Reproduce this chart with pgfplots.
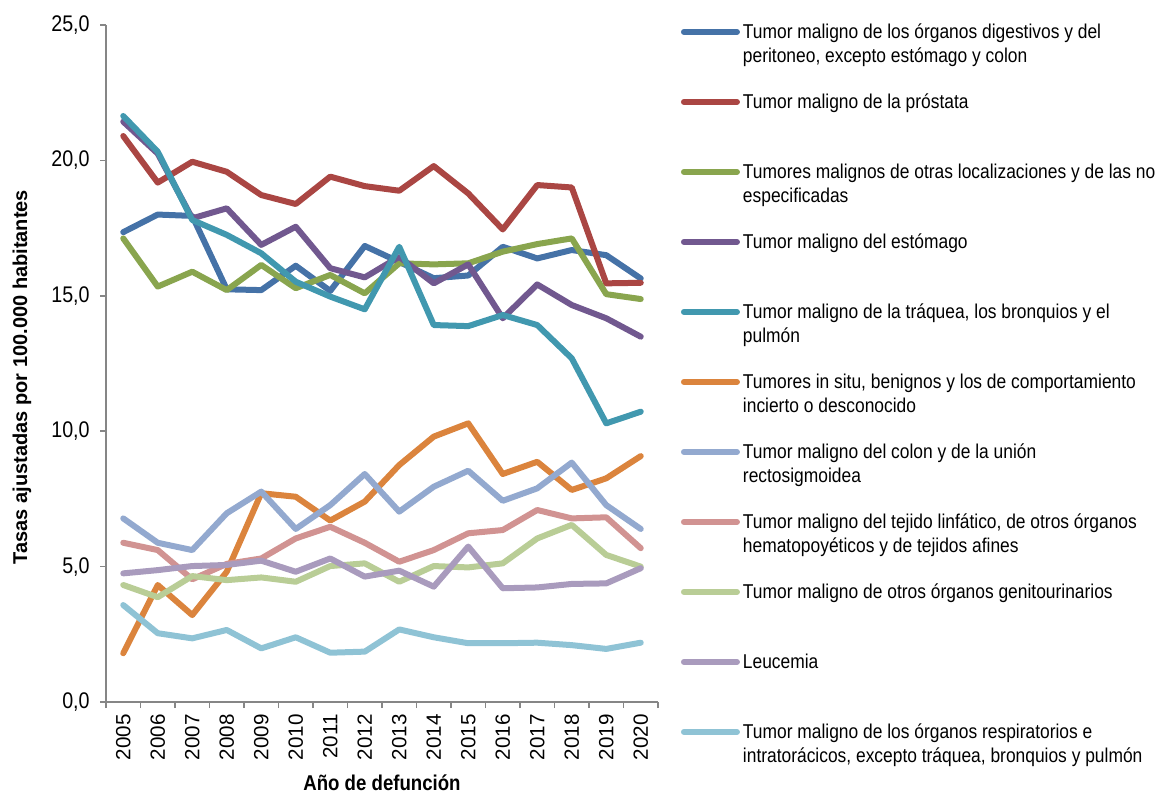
\documentclass[border=0pt]{standalone}
\usepackage{pgfplots}
\pgfplotsset{compat=1.18}
\usepackage{fontspec}
\setmainfont{Liberation Sans}[FakeStretch=0.87]
\newfontfamily\rotfont{Liberation Sans}
\definecolor{axgray}{HTML}{868686}
\definecolor{c1}{HTML}{4572A7}
\definecolor{c2}{HTML}{AA4643}
\definecolor{c3}{HTML}{89A54E}
\definecolor{c4}{HTML}{71588F}
\definecolor{c5}{HTML}{4198AF}
\definecolor{c6}{HTML}{DB843D}
\definecolor{c7}{HTML}{93A9CF}
\definecolor{c8}{HTML}{D19392}
\definecolor{c9}{HTML}{B9CD96}
\definecolor{c10}{HTML}{A99BBD}
\definecolor{c11}{HTML}{8FC3D5}
\newcommand{\LE}[1]{\begin{tabular}[t]{@{}l@{}}#1\end{tabular}}
\begin{document}
\begin{tikzpicture}
\useasboundingbox (-53pt,-45pt) rectangle (527pt,351pt);
\begin{axis}[
  at={(0pt,0pt)}, anchor=south west,
  scale only axis, width=276pt, height=338.5pt,
  xmin=2004.5, xmax=2020.5, ymin=0, ymax=25,
  axis x line*=bottom, axis y line*=left,
  axis line style={draw=axgray, line width=0.8pt},
  tick align=outside, tick style={draw=axgray, line width=0.8pt},
  major tick length=3pt, minor tick length=3pt,
  xtick={2005,2006,...,2020},
  xticklabels={2005,2006,2007,2008,2009,2010,2011,2012,2013,2014,2015,2016,2017,2018,2019,2020},
  every major x tick/.append style={draw=none},
  minor xtick={2004.5,2005.5,...,2020.5},
  xticklabel style={rotate=90, anchor=east, inner sep=0pt, font=\rotfont\fontsize{10.3}{12}\selectfont},
  xticklabel shift=3pt,
  ytick={0,5,10,15,20,25},
  yticklabel style={inner sep=0pt, font=\fontsize{11.3}{13}\selectfont,
    /pgf/number format/.cd, fixed, fixed zerofill, precision=1, use comma, assume math mode=true},
  yticklabel shift=5pt,
  xlabel={Año de defunción},
  xlabel style={at={(axis description cs:0.5,0)}, anchor=base, yshift=-44pt, font=\bfseries\fontsize{10.7}{12}\selectfont},
  ylabel={Tasas ajustadas por 100.000 habitantes},
  ylabel style={at={(axis description cs:-0.1522,0.48)}, anchor=center, font=\rotfont\bfseries\fontsize{10}{12}\selectfont},
  every axis plot/.append style={line width=3pt, line join=round, line cap=round, no markers},
  legend cell align=left,
  legend style={at={(axis description cs:1.0416,1.003)}, anchor=north west, draw=none, fill=none,
    inner sep=0pt, outer sep=0pt, column sep=1.5pt, row sep=0pt,
    font=\fontsize{10}{12}\selectfont,
    nodes={inner sep=0pt, text height=8pt, text depth=27pt},
    cells={anchor=base west}},
  legend image code/.code={\draw[#1] (1.5pt,3.5pt) -- (28pt,3.5pt);},
]
\addplot[c1] coordinates {(2005,17.35) (2006,18.0) (2007,17.95) (2008,15.24) (2009,15.21) (2010,16.11) (2011,15.18) (2012,16.84) (2013,16.25) (2014,15.65) (2015,15.75) (2016,16.81) (2017,16.38) (2018,16.69) (2019,16.5) (2020,15.64)};
\addlegendentry{\LE{Tumor maligno de los órganos digestivos y del\\peritoneo, excepto estómago y colon}}
\addplot[c2] coordinates {(2005,20.9) (2006,19.18) (2007,19.95) (2008,19.58) (2009,18.72) (2010,18.39) (2011,19.4) (2012,19.05) (2013,18.88) (2014,19.79) (2015,18.78) (2016,17.45) (2017,19.09) (2018,19.0) (2019,15.46) (2020,15.48)};
\addlegendentry{\LE{Tumor maligno de la próstata}}
\addplot[c3] coordinates {(2005,17.12) (2006,15.34) (2007,15.89) (2008,15.21) (2009,16.14) (2010,15.28) (2011,15.77) (2012,15.09) (2013,16.2) (2014,16.16) (2015,16.2) (2016,16.63) (2017,16.91) (2018,17.12) (2019,15.06) (2020,14.88)};
\addlegendentry{\LE{Tumores malignos de otras localizaciones y de las no\\especificadas}}
\addplot[c4] coordinates {(2005,21.43) (2006,20.25) (2007,17.86) (2008,18.23) (2009,16.88) (2010,17.55) (2011,16.02) (2012,15.68) (2013,16.44) (2014,15.46) (2015,16.16) (2016,14.17) (2017,15.42) (2018,14.66) (2019,14.17) (2020,13.49)};
\addlegendentry{\LE{Tumor maligno del estómago}}
\addplot[c5] coordinates {(2005,21.64) (2006,20.32) (2007,17.8) (2008,17.25) (2009,16.57) (2010,15.52) (2011,14.97) (2012,14.5) (2013,16.81) (2014,13.92) (2015,13.88) (2016,14.29) (2017,13.92) (2018,12.69) (2019,10.29) (2020,10.72)};
\addlegendentry{\LE{Tumor maligno de la tráquea, los bronquios y el\\pulmón}}
\addplot[c6] coordinates {(2005,1.8) (2006,4.32) (2007,3.21) (2008,4.81) (2009,7.71) (2010,7.58) (2011,6.7) (2012,7.4) (2013,8.75) (2014,9.8) (2015,10.29) (2016,8.42) (2017,8.87) (2018,7.83) (2019,8.26) (2020,9.08)};
\addlegendentry{\LE{Tumores in situ, benignos y los de comportamiento\\incierto o desconocido}}
\addplot[c7] coordinates {(2005,6.78) (2006,5.88) (2007,5.61) (2008,6.97) (2009,7.77) (2010,6.39) (2011,7.27) (2012,8.42) (2013,7.03) (2014,7.95) (2015,8.54) (2016,7.43) (2017,7.89) (2018,8.84) (2019,7.27) (2020,6.39)};
\addlegendentry{\LE{Tumor maligno del colon y de la unión\\rectosigmoidea}}
\addplot[c8] coordinates {(2005,5.88) (2006,5.61) (2007,4.53) (2008,5.1) (2009,5.3) (2010,6.04) (2011,6.47) (2012,5.88) (2013,5.18) (2014,5.61) (2015,6.23) (2016,6.35) (2017,7.09) (2018,6.78) (2019,6.82) (2020,5.68)};
\addlegendentry{\LE{Tumor maligno del tejido linfático, de otros órganos\\hematopoyéticos y de tejidos afines}}
\addplot[c9] coordinates {(2005,4.32) (2006,3.87) (2007,4.65) (2008,4.5) (2009,4.6) (2010,4.44) (2011,5.02) (2012,5.12) (2013,4.44) (2014,5.02) (2015,4.97) (2016,5.12) (2017,6.04) (2018,6.54) (2019,5.43) (2020,5.0)};
\addlegendentry{\LE{Tumor maligno de otros órganos genitourinarios}}
\addplot[c10] coordinates {(2005,4.75) (2006,4.87) (2007,5.02) (2008,5.06) (2009,5.22) (2010,4.81) (2011,5.3) (2012,4.63) (2013,4.85) (2014,4.26) (2015,5.74) (2016,4.2) (2017,4.23) (2018,4.36) (2019,4.38) (2020,4.94)};
\addlegendentry{\LE{Leucemia}}
\addplot[c11] coordinates {(2005,3.58) (2006,2.54) (2007,2.35) (2008,2.66) (2009,1.98) (2010,2.39) (2011,1.82) (2012,1.86) (2013,2.68) (2014,2.39) (2015,2.17) (2016,2.17) (2017,2.19) (2018,2.1) (2019,1.96) (2020,2.19)};
\addlegendentry{\LE{Tumor maligno de los órganos respiratorios e\\intratorácicos, excepto tráquea, bronquios y pulmón}}
\end{axis}
\end{tikzpicture}
\end{document}
